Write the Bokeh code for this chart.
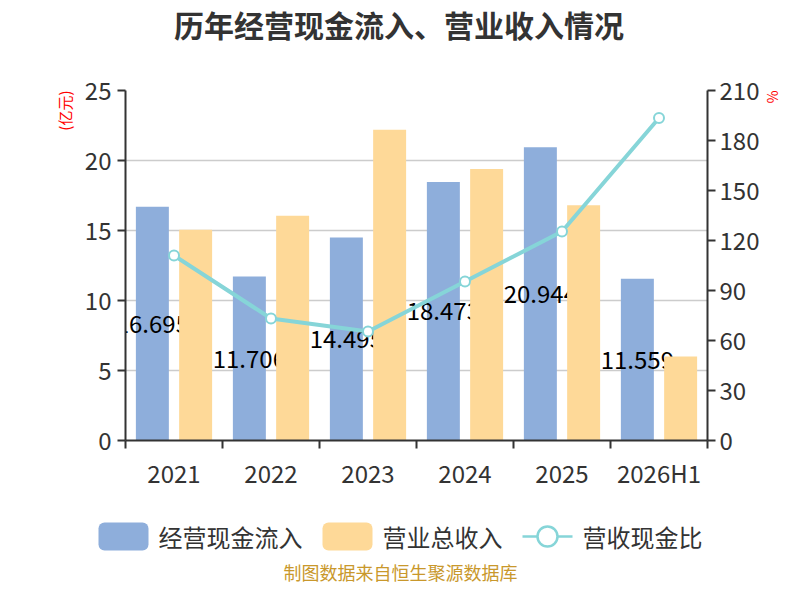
from bokeh.plotting import figure
from bokeh.layouts import column, row
from bokeh.models import ColumnDataSource, Range1d, LinearAxis, FixedTicker, Title
from bokeh.core.properties import value
from bokeh.embed import file_html
from bokeh.resources import INLINE

# data
years = ["2021", "2022", "2023", "2024", "2025", "2026H1"]
cash_in = [16.695, 11.706, 14.495, 18.473, 20.944, 11.559]      # 经营现金流入 (亿元)
revenue = [15.05, 16.05, 22.2, 19.4, 16.8, 6.0]                   # 营业总收入 (亿元)
ratio = [111.0, 73.2, 65.4, 95.4, 125.4, 193.5]                   # 营收现金比 (%)
left_ticks = [0, 5, 10, 15, 20, 25]
right_ticks = [0, 30, 60, 90, 120, 150, 180, 210]
series_names = ["经营现金流入", "营业总收入", "营收现金比"]

FONT = "Noto Sans CJK SC"
BLUE = "#8eaedb"
ORANGE = "#fed998"
TEAL = "#86d5d8"
DARK = "#333333"
W = 784
LEFT, RIGHT = 125, 710   # frame edges in page pixels


def strip(height, top, left=LEFT, right=RIGHT):
    # a plain figure whose data units are page pixels, used for texts/legend
    f = figure(width=W, height=height, output_backend="svg",
               toolbar_location=None, x_range=Range1d(left, right),
               y_range=Range1d(top + height, top), x_axis_type=None,
               y_axis_type=None, min_border_left=left,
               min_border_right=W - right, min_border_top=0,
               min_border_bottom=0)
    f.outline_line_color = None
    return f


n = len(years)
centers = [i + 0.5 for i in range(n)]
off = 0.223
src = ColumnDataSource(dict(
    xc=centers,
    xb=[c - off for c in centers],
    xo=[c + off for c in centers],
    cash=cash_in,
    cash_mid=[v / 2 for v in cash_in],
    cash_txt=["%.3f" % v for v in cash_in],
    rev=revenue,
    ratio=ratio,
))

# title strip
head = strip(60, 0)
head.text(x=[400], y=[23], text=["历年经营现金流入、营业收入情况"],
          text_align="center", text_baseline="middle", text_font=value(FONT),
          text_font_size="30px", text_font_style="bold", text_color=DARK)

p = figure(width=W, height=440, output_backend="svg", toolbar_location=None,
           x_range=Range1d(0, n), y_range=Range1d(0, left_ticks[-1]),
           min_border_left=LEFT, min_border_right=W - RIGHT, min_border_top=30,
           min_border_bottom=60)
p.extra_y_ranges = {"pct": Range1d(0, right_ticks[-1])}
p.outline_line_color = None

p.vbar(x="xb", top="cash", width=0.34, source=src, fill_color=BLUE,
       line_color=None)
p.text(x="xb", y="cash_mid", text="cash_txt", source=src, text_align="center",
       text_baseline="middle", text_font=value(FONT), text_font_size="24px",
       text_color="black")
p.vbar(x="xo", top="rev", width=0.34, source=src, fill_color=ORANGE,
       line_color=None)
p.line(x="xc", y="ratio", source=src, y_range_name="pct",
       line_color=TEAL, line_width=4)
p.scatter(x="xc", y="ratio", source=src, y_range_name="pct", size=10,
          fill_color="white", line_color=TEAL, line_width=2)

# axes
xa = p.xaxis[0]
xa.ticker = FixedTicker(ticks=centers, minor_ticks=list(range(n + 1)))
xa.major_label_overrides = {c: y for c, y in zip(centers, years)}
xa.major_tick_out = 0
xa.major_tick_in = 0
xa.minor_tick_out = 8
xa.minor_tick_in = 0
xa.minor_tick_line_color = DARK
xa.minor_tick_line_width = 2

ya = p.yaxis[0]
ya.ticker = FixedTicker(ticks=left_ticks)
ya.minor_tick_line_color = None

ra = LinearAxis(y_range_name="pct", ticker=FixedTicker(ticks=right_ticks))
ra.minor_tick_line_color = None
p.add_layout(ra, "right")

for ax in [xa, ya, ra]:
    ax.axis_line_color = DARK
    ax.axis_line_width = 2
    ax.major_tick_line_color = DARK
    ax.major_tick_line_width = 2
    ax.major_label_text_font = FONT
    ax.major_label_text_font_size = "24px"
    ax.major_label_text_color = DARK
    ax.major_label_standoff = 6
for ax in [ya, ra]:
    ax.major_tick_out = 8
    ax.major_tick_in = 0
ra.major_label_standoff = 4

p.xgrid.grid_line_color = None
p.ygrid.grid_line_color = "#cccccc"
p.ygrid.grid_line_width = 1.5

# unit labels
p.add_layout(Title(text="(亿元)", align="right", text_font=FONT,
                   text_font_size="15px", text_font_style="normal",
                   text_color="red", standoff=14), "left")
p.add_layout(Title(text="%", align="left", text_font=FONT,
                   text_font_size="14px", text_font_style="normal",
                   text_color="red", standoff=0), "right")

# legend and source strip (full width, kept apart from the frame alignment)
leg = strip(84, 500, left=0, right=W)
ly = 536
gx = [98, 322, 522]           # left edge of each legend key
tx = [g + 60 for g in gx]
leg.quad(left=gx[:2], right=[g + 50 for g in gx[:2]], top=[ly - 14] * 2,
         bottom=[ly + 14] * 2, fill_color=[BLUE, ORANGE], line_color=None,
         border_radius=6)
leg.line(x=[gx[2], gx[2] + 50], y=[ly, ly], line_color=TEAL, line_width=2.5)
leg.scatter(x=[gx[2] + 25], y=[ly], size=20, fill_color="white",
            line_color=TEAL, line_width=2.5)
leg.text(x=tx, y=[ly] * 3, text=series_names, text_baseline="middle",
         text_font=value(FONT), text_font_size="24px", text_color=DARK)
leg.text(x=[400], y=[571], text=["制图数据来自恒生聚源数据库"],
         text_align="center", text_baseline="middle", text_font=value(FONT),
         text_font_size="18px", text_color="#c9982c")

layout = column(head, p, row(leg), spacing=0)
open("out.html", "w").write(file_html(layout, INLINE))
